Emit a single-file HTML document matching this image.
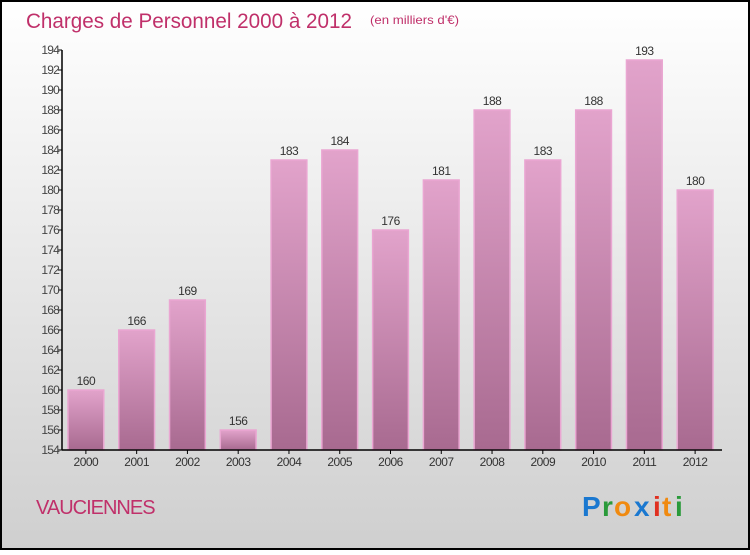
<!DOCTYPE html>
<html><head><meta charset="utf-8"><style>
html,body{margin:0;padding:0}
body{width:750px;height:550px;overflow:hidden;font-family:"Liberation Sans",sans-serif}
</style></head><body>
<svg id="chart" width="750" height="550" xmlns="http://www.w3.org/2000/svg">
<defs>
<linearGradient id="bg" x1="0" y1="0" x2="0" y2="1"><stop offset="0" stop-color="#ffffff"/><stop offset="1" stop-color="#cfcfcf"/></linearGradient>
<linearGradient id="bar" x1="0" y1="0" x2="0" y2="1"><stop offset="0" stop-color="#e2a3cb"/><stop offset="1" stop-color="#a86a90"/></linearGradient>
</defs>
<rect x="1" y="1" width="748" height="548" fill="url(#bg)" stroke="#000" stroke-width="2"/>
<text x="26" y="28" font-size="21" fill="#c0306a" textLength="326" lengthAdjust="spacingAndGlyphs">Charges de Personnel 2000 à 2012</text>
<text x="370" y="24" font-size="12" fill="#c0306a" textLength="89" lengthAdjust="spacingAndGlyphs">(en milliers d'€)</text>
<text x="36" y="514" font-size="20" fill="#c0306a" letter-spacing="-1">VAUCIENNES</text>
<g font-size="28" font-weight="bold" font-family="'Liberation Sans',sans-serif">
<text x="582" y="516" fill="#1a78d0">P</text><text x="602" y="516" fill="#2a9a3a">r</text><text x="614" y="516" fill="#f08a10">o</text><text x="634" y="516" fill="#1a78d0">x</text><text x="653" y="516" fill="#e03020">i</text><text x="662" y="516" fill="#f08a10">t</text><text x="675" y="516" fill="#2a9a3a">i</text>
</g>
<g id="plot"></g>
</svg>
<script>
const categories=["2000","2001","2002","2003","2004","2005","2006","2007","2008","2009","2010","2011","2012"];
const values=[160,166,169,156,183,184,176,181,188,183,188,193,180];
const yTicks=[154,156,158,160,162,164,166,168,170,172,174,176,178,180,182,184,186,188,190,192,194];
const NS="http://www.w3.org/2000/svg";
const g=document.getElementById('plot');
const x0=62,x1=722,yMin=154,yMax=194,yB=450,yT=50;
const band=(x1-x0)/categories.length;
const y=v=>yB-(v-yMin)/(yMax-yMin)*(yB-yT);
function el(t,a){const e=document.createElementNS(NS,t);for(const k in a)e.setAttribute(k,a[k]);g.appendChild(e);return e;}
yTicks.forEach(v=>{
 const l=el('line',{x1:x0-4,x2:x0,y1:y(v),y2:y(v),stroke:'#000'});
 
 
 const t=el('text',{x:x0-3,y:y(v)+4,'font-size':12,fill:'#444','text-anchor':'end','letter-spacing':'-0.8'});
 t.textContent=v;
 
 
});
categories.forEach((c,i)=>{
 const bx=x0+i*band+6,bw=band-15;
 const r=el('rect',{x:bx,y:y(values[i]),width:bw,height:yB-y(values[i]),fill:'url(#bar)',stroke:'#eaa6d2','stroke-width':1.5});
 
 
 const v=el('text',{x:bx+bw/2,y:y(values[i])-5,'font-size':12,fill:'#333','text-anchor':'middle','letter-spacing':'-0.5'});
 v.textContent=values[i];
 
 
 const tk=el('line',{x1:bx+bw/2,x2:bx+bw/2,y1:yB,y2:yB+4,stroke:'#000'});
 
 
 const t=el('text',{x:bx+bw/2,y:yB+16,'font-size':12,fill:'#333','text-anchor':'middle','letter-spacing':'-0.5'});
 t.textContent=c;
 
 
});
const ya=el('line',{x1:x0,x2:x0,y1:yT,y2:yB,stroke:'#000','stroke-width':1.5});


const xa=el('line',{x1:x0,x2:x1,y1:yB,y2:yB,stroke:'#000','stroke-width':1.5});


</script>
</body></html>
